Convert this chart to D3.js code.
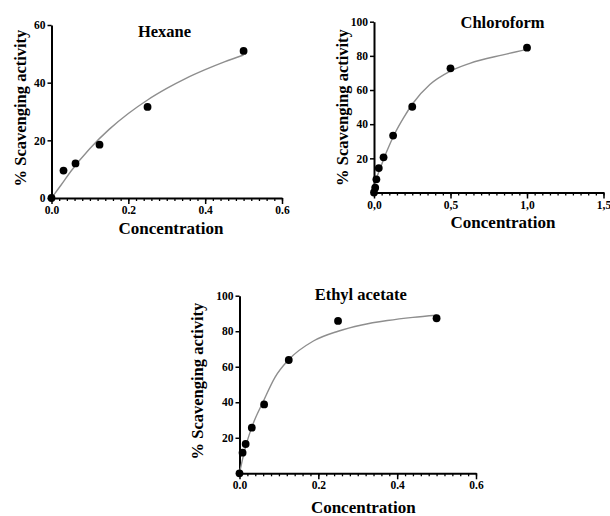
<!DOCTYPE html>
<html>
<head>
<meta charset="utf-8">
<script src="https://cdn.jsdelivr.net/npm/d3@7"></script>
<style>
  body{margin:0;background:#fff;}
  text{font-family:"Liberation Serif","Times New Roman",serif;font-weight:bold;fill:#000;}
</style>
</head>
<body>
<svg id="chart" width="610" height="516"></svg>
<script>
// ---- data ----
// hexane
var hexaneX = [0, 0.03125, 0.0625, 0.125, 0.25, 0.5];
var hexaneY = [0, 9.5, 12, 18.5, 31.6, 51];
var hexaneFitX = [0, 0.01, 0.025, 0.05, 0.1, 0.15, 0.2, 0.25, 0.3, 0.35, 0.4, 0.45, 0.5];
var hexaneFitY = [0, 1.8, 4.5, 9.2, 17.2, 23.8, 29.3, 34, 38, 41.5, 44.5, 47.2, 49.6];

// chloroform
var chloroX = [0, 0.0078, 0.0156, 0.03125, 0.0625, 0.125, 0.25, 0.5, 1.0];
var chloroY = [0, 2.8, 7.7, 14.3, 20.6, 33.3, 50.2, 72.7, 84.8];
var chloroFitX = [0, 0.0065, 0.039, 0.083, 0.137, 0.191, 0.256, 0.365, 0.496, 0.626, 0.843, 1.0];
var chloroFitY = [0, 4.4, 13.6, 24, 34.7, 43.4, 52.4, 63.2, 70.9, 75.6, 80.6, 83.8];

// ethyl acetate
var ethylX = [0, 0.0078, 0.0156, 0.03125, 0.0625, 0.125, 0.25, 0.5];
var ethylY = [0, 11.6, 16.5, 25.7, 38.8, 63.8, 85.8, 87.3];
var ethylFitX = [0, 0.0078, 0.0156, 0.03125, 0.0625, 0.09, 0.125, 0.1875, 0.25, 0.31, 0.375, 0.44, 0.5];
var ethylFitY = [0, 8, 15, 26, 41.5, 54, 64, 74.5, 80, 83.5, 86, 87.8, 89];

// tick labels
var hexaneXTicks = ["0.0", "0.2", "0.4", "0.6"];
var hexaneYTicks = ["0", "20", "40", "60"];
var chloroXTicks = ["0,0", "0,5", "1,0", "1,5"];
var chloroYTicks = ["20", "40", "60", "80", "100"];
var ethylXTicks = ["0.0", "0.2", "0.4", "0.6"];
var ethylYTicks = ["20", "40", "60", "80", "100"];

var SVG = d3.select("#chart");
var FONT = "'Liberation Serif','Times New Roman',serif";

// one panel of the figure
function DRAW_PANEL(p){
  var x = d3.scaleLinear().domain([0, p.xmax]).range([p.left, p.right]);
  var y = d3.scaleLinear().domain([0, p.ymax]).range([p.bottom, p.top]);
  var g = SVG.append("g");

  // minor x ticks
  g.append("g")
   .attr("transform", "translate(0," + p.bottom + ")")
   .call(d3.axisBottom(x).tickValues(d3.range(0, p.xmax + 1e-9, p.xminor)).tickSize(3).tickSizeOuter(0).tickFormat(""))
   .call(function(a){ a.select(".domain").remove(); a.selectAll("line").attr("stroke-width", 1.3); });

  // major x ticks
  var xvals = p.xticks.map(function(d){ return +d.replace(",", "."); });
  g.append("g")
   .attr("transform", "translate(0," + p.bottom + ")")
   .call(d3.axisBottom(x).tickValues(xvals).tickSize(6).tickSizeOuter(0).tickPadding(2)
           .tickFormat(function(d, i){ return p.xticks[i]; }))
   .call(function(a){
      a.attr("font-family", FONT);
      a.select(".domain").attr("stroke-width", 2);
      a.selectAll("line").attr("stroke-width", 1.5);
      a.selectAll("text").style("font-size", "11.5px");
   });

  // y axis
  var yvals = p.yticks.map(Number);
  g.append("g")
   .attr("transform", "translate(" + p.left + ",0)")
   .call(d3.axisLeft(y).tickValues(yvals).tickSize(4).tickSizeOuter(0).tickPadding(2)
           .tickFormat(function(d, i){ return p.yticks[i]; }))
   .call(function(a){
      a.attr("font-family", FONT);
      a.select(".domain").attr("stroke-width", 2);
      a.selectAll("line").attr("stroke-width", 1.5);
      a.selectAll("text").style("font-size", "11.5px");
   });

  // fitted curve
  var fit = p.fitx.map(function(d, i){ return [d, p.fity[i]]; });
  g.append("path")
   .datum(fit)
   .attr("fill", "none")
   .attr("stroke", "#8e8e8e")
   .attr("stroke-width", 1.4)
   .attr("d", d3.line().x(function(d){ return x(d[0]); }).y(function(d){ return y(d[1]); }).curve(d3.curveMonotoneX));

  // points
  g.selectAll(".pt")
   .data(p.px.map(function(d, i){ return [d, p.py[i]]; }))
   .enter()
   .append("circle")
   .attr("class", "pt")
   .attr("cx", function(d){ return x(d[0]); })
   .attr("cy", function(d){ return y(d[1]); })
   .attr("r", 3.9)
   .attr("fill", "#000");

  // texts
  g.append("text")
   .attr("x", p.titleX).attr("y", p.titleY)
   .attr("text-anchor", "middle")
   .style("font-size", "16.5px")
   .text(p.title);
  g.append("text")
   .attr("x", p.xlabX).attr("y", p.xlabY)
   .attr("text-anchor", "middle")
   .style("font-size", "17px")
   .text("Concentration");
  g.append("text")
   .attr("transform", "translate(" + p.ylabX + "," + p.ylabY + ") rotate(-90)")
   .attr("text-anchor", "middle")
   .style("font-size", "16.5px")
   .text("% Scavenging activity");
};

DRAW_PANEL({
  title: "Hexane", px: hexaneX, py: hexaneY, fitx: hexaneFitX, fity: hexaneFitY,
  xticks: hexaneXTicks, yticks: hexaneYTicks, xmax: 0.6, ymax: 60, xminor: 0.02,
  left: 51.5, right: 282, top: 25, bottom: 198,
  titleX: 164.5, titleY: 36.5, xlabX: 171, xlabY: 234, ylabX: 26, ylabY: 108
});

DRAW_PANEL({
  title: "Chloroform", px: chloroX, py: chloroY, fitx: chloroFitX, fity: chloroFitY,
  xticks: chloroXTicks, yticks: chloroYTicks, xmax: 1.5, ymax: 100, xminor: 0.05,
  left: 374, right: 603.5, top: 21.7, bottom: 192.5,
  titleX: 502.5, titleY: 28.3, xlabX: 503, xlabY: 227.5, ylabX: 348, ylabY: 107.5
});

DRAW_PANEL({
  title: "Ethyl acetate", px: ethylX, py: ethylY, fitx: ethylFitX, fity: ethylFitY,
  xticks: ethylXTicks, yticks: ethylYTicks, xmax: 0.6, ymax: 100, xminor: 0.02,
  left: 239.5, right: 476, top: 295.7, bottom: 473.3,
  titleX: 360.7, titleY: 299.5, xlabX: 363.3, xlabY: 513, ylabX: 203, ylabY: 381
});
</script>
</body>
</html>
